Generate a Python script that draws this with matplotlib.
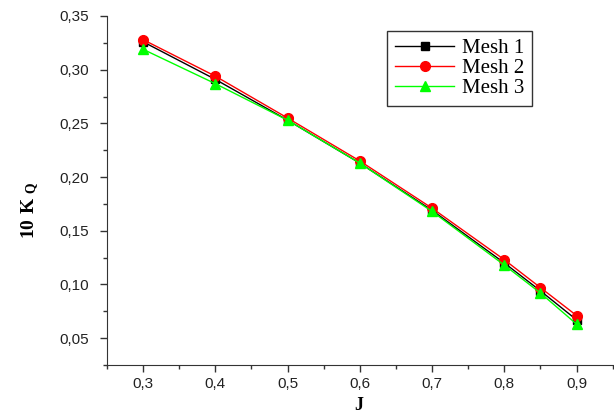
import matplotlib
matplotlib.use("Agg")
import matplotlib.pyplot as plt
from matplotlib.ticker import MultipleLocator, FuncFormatter

J = [0.3, 0.4, 0.5, 0.6, 0.7, 0.8, 0.85, 0.9]
mesh1 = [0.326, 0.291, 0.253, 0.213, 0.169, 0.120, 0.094, 0.067]
mesh2 = [0.328, 0.294, 0.255, 0.215, 0.171, 0.123, 0.097, 0.071]
mesh3 = [0.319, 0.287, 0.253, 0.213, 0.168, 0.118, 0.092, 0.063]

plt.rcParams['mathtext.fontset'] = 'custom'
plt.rcParams['mathtext.rm'] = 'Liberation Serif'
plt.rcParams['mathtext.bf'] = 'Liberation Serif:bold'

fig = plt.figure(figsize=(6.14, 4.16), dpi=100)
ax = fig.add_axes([0.174, 0.1226, 0.824, 0.839])

ax.plot(J, mesh1, color='black', marker='s', markersize=6, lw=1, label='Mesh 1')
ax.plot(J, mesh2, color='red', marker='o', markersize=7, lw=1, label='Mesh 2')
ax.plot(J, mesh3, color='#00ff00', marker='^', markersize=7, lw=1, label='Mesh 3')

ax.set_xlim(0.25, 0.95)
ax.set_ylim(0.025, 0.35)
ax.xaxis.set_major_locator(MultipleLocator(0.1))
ax.xaxis.set_minor_locator(MultipleLocator(0.05))
ax.yaxis.set_major_locator(MultipleLocator(0.05))
ax.yaxis.set_minor_locator(MultipleLocator(0.025))
ax.xaxis.set_major_formatter(FuncFormatter(lambda v, p: f"{v:.1f}".replace('.', ',')))
ax.yaxis.set_major_formatter(FuncFormatter(lambda v, p: f"{v:.2f}".replace('.', ',')))
ax.set_xticks([0.3, 0.4, 0.5, 0.6, 0.7, 0.8, 0.9])

for s in ['top', 'right']:
    ax.spines[s].set_visible(False)
for s in ['left', 'bottom']:
    ax.spines[s].set_color('#333333')
ax.tick_params(which='major', direction='out', length=5, width=1, colors='#333333',
               labelsize=11, labelcolor='#222222')
ax.tick_params(axis='y', which='major', pad=8)
ax.tick_params(axis='x', which='major', pad=4)
ax.tick_params(which='minor', direction='out', length=3, width=1, colors='#333333')
for t in ax.get_xticklabels() + ax.get_yticklabels():
    t.set_family('Liberation Sans')

# axis titles placed directly so they sit where the original has them
fig.text(359 / 614, 1 - 405 / 416, 'J', family='Liberation Serif', fontweight='bold',
         fontsize=13, ha='center', va='center')
fig.text(30 / 614, 1 - 210 / 416, r'$\mathbf{10\ K_{\ Q}}$', fontsize=14,
         rotation=90, ha='center', va='center')

leg = ax.legend(loc='upper left', bbox_to_anchor=(0.5546, 0.958), frameon=True, fancybox=False,
                edgecolor='black', prop={'family': 'Liberation Serif', 'size': 15},
                handlelength=2.8, borderpad=0.38, labelspacing=0.02, handletextpad=0.4,
                borderaxespad=0)
leg.get_frame().set_linewidth(1)

fig.savefig('out.png', dpi=100)
